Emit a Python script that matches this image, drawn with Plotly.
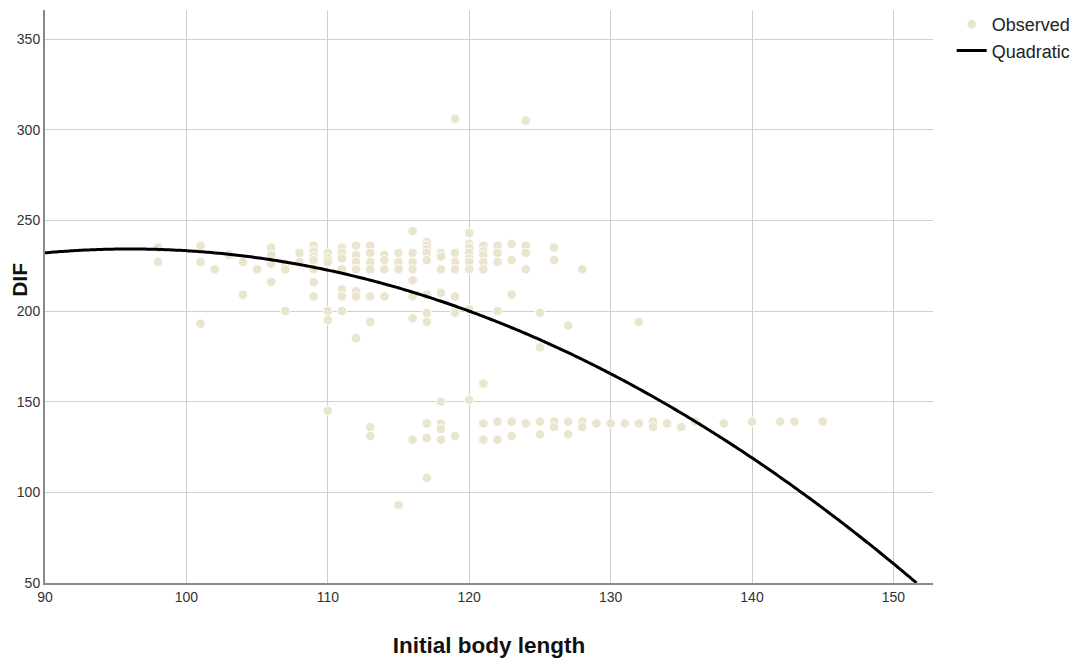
import numpy as np
import plotly.graph_objects as go

# Observed measurements: initial body length (x) and DIF (y)
obs_length = (
    [98] * 2 + [101] * 3 + [102] + [103] + [104] * 2 + [105] + [106] * 4 + [107] * 3
    + [108] * 2 + [109] * 7 + [110] * 6 + [111] * 7 + [112] * 7 + [113] * 8
    + [114] * 4 + [115] * 4 + [116] * 8 + [117] * 11 + [118] * 8 + [119] * 7
    + [120] * 9 + [121] * 8 + [122] * 6 + [123] * 5 + [124] * 5 + [125] * 4
    + [126] * 4 + [127] * 3 + [128] * 3 + [129] + [130] + [131] + [132] * 2
    + [133] * 2 + [134] + [135] + [136] + [138] + [140] + [142] + [143] + [145]
)
obs_dif = [
    235, 227,                                  # 98
    236, 227, 193,                             # 101
    223,                                       # 102
    231,                                       # 103
    227, 209,                                  # 104
    223,                                       # 105
    235, 231, 226, 216,                        # 106
    226, 223, 200,                             # 107
    232, 227,                                  # 108
    236, 233, 230, 228, 223, 216, 208,         # 109
    232, 229, 227, 200, 195, 145,              # 110
    235, 232, 229, 223, 212, 208, 200,         # 111
    236, 231, 227, 223, 211, 208, 185,         # 112
    236, 232, 227, 223, 208, 194, 136, 131,    # 113
    231, 228, 223, 208,                        # 114
    232, 227, 223, 93,                         # 115
    244, 232, 227, 223, 217, 208, 196, 129,    # 116
    238, 236, 234, 232, 228, 209, 199, 194, 138, 130, 108,  # 117
    232, 230, 223, 210, 150, 138, 135, 129,    # 118
    306, 232, 227, 223, 208, 199, 131,         # 119
    243, 237, 235, 232, 229, 227, 223, 201, 151,  # 120
    236, 233, 231, 227, 223, 160, 138, 129,    # 121
    236, 232, 227, 200, 139, 129,              # 122
    237, 228, 209, 139, 131,                   # 123
    305, 236, 232, 223, 138,                   # 124
    199, 180, 139, 132,                        # 125
    235, 228, 139, 136,                        # 126
    192, 139, 132,                             # 127
    223, 139, 136,                             # 128
    138,                                       # 129
    138,                                       # 130
    138,                                       # 131
    194, 138,                                  # 132
    139, 136,                                  # 133
    138,                                       # 134
    136,                                       # 135
    139,                                       # 136
    138,                                       # 138
    139,                                       # 140
    139,                                       # 142
    139,                                       # 143
    139,                                       # 145
]

# Quadratic fit: DIF = a + b*L + c*L^2
fit_a, fit_b, fit_c = -314.15, 11.424, -0.0595

x_ticks = [90, 100, 110, 120, 130, 140, 150]
y_ticks = [50, 100, 150, 200, 250, 300, 350]
x_range = [90, 152.8]
y_range = [50, 366]

# Curve runs from the left edge until it reaches the bottom of the y range
disc = fit_b ** 2 - 4 * fit_c * (fit_a - y_range[0])
x_end = (-fit_b - np.sqrt(disc)) / (2 * fit_c)
curve_x = np.linspace(x_range[0], x_end, 400)
curve_y = fit_a + fit_b * curve_x + fit_c * curve_x ** 2

font_family = "Liberation Sans, Arial, sans-serif"
grid_col = "#cfcfcf"

fig = go.Figure()
fig.add_trace(go.Scatter(
    x=obs_length, y=obs_dif, mode="markers", name="Observed",
    marker=dict(size=9.5, color="#EBE4CE", line=dict(color="white", width=1)),
))
fig.add_trace(go.Scatter(
    x=curve_x, y=curve_y, mode="lines", name="Quadratic",
    line=dict(color="black", width=3, simplify=False),
))

fig.update_layout(
    width=1077, height=660,
    margin=dict(l=45, r=144, t=10, b=77, autoexpand=False),
    paper_bgcolor="white", plot_bgcolor="white",
    font=dict(family=font_family, color="#222222"),
    showlegend=True,
    legend=dict(
        x=1.021, xanchor="left", y=1.007, yanchor="top",
        font=dict(family=font_family, size=18, color="#222222"),
        bgcolor="rgba(0,0,0,0)",
    ),
    annotations=[dict(
        text="<b>DIF</b>", textangle=-90,
        xref="paper", yref="paper", x=-0.0282, y=0.529,
        xanchor="center", yanchor="middle", showarrow=False,
        font=dict(family=font_family, size=21, color="#111111"),
    )],
)
fig.update_xaxes(
    range=x_range, tickvals=x_ticks, ticktext=[str(v) for v in x_ticks],
    showgrid=True, gridcolor=grid_col, gridwidth=1.3,
    showline=True, linecolor="#8a8a8a", linewidth=2,
    zeroline=False, ticks="", tickfont=dict(size=14, color="#333333"),
    automargin=False,
    title=dict(text="<b>Initial body length</b>", font=dict(size=22.5, color="#111111"), standoff=33),
)
fig.update_yaxes(
    range=y_range, tickvals=y_ticks, ticktext=[str(v) for v in y_ticks],
    showgrid=True, gridcolor=grid_col, gridwidth=1.3,
    showline=True, linecolor="#8a8a8a", linewidth=2,
    zeroline=False, ticks="", tickfont=dict(size=14, color="#333333"),
    automargin=False,
)

fig.write_html("out.html")
